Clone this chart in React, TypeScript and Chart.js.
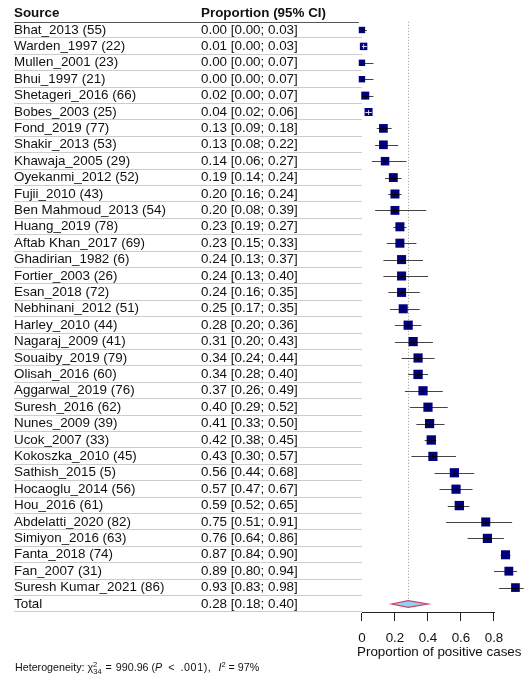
import React, { useEffect, useRef } from "react";
import { Chart, registerables } from "chart.js";

Chart.register(...registerables);

// ---- data ----
const studies = [
  "Bhat_2013 (55)", "Warden_1997 (22)", "Mullen_2001 (23)", "Bhui_1997 (21)",
  "Shetageri_2016 (66)", "Bobes_2003 (25)", "Fond_2019 (77)", "Shakir_2013 (53)",
  "Khawaja_2005 (29)", "Oyekanmi_2012 (52)", "Fujii_2010 (43)", "Ben Mahmoud_2013 (54)",
  "Huang_2019 (78)", "Aftab Khan_2017 (69)", "Ghadirian_1982 (6)", "Fortier_2003 (26)",
  "Esan_2018 (72)", "Nebhinani_2012 (51)", "Harley_2010 (44)", "Nagaraj_2009 (41)",
  "Souaiby_2019 (79)", "Olisah_2016 (60)", "Aggarwal_2019 (76)", "Suresh_2016 (62)",
  "Nunes_2009 (39)", "Ucok_2007 (33)", "Kokoszka_2010 (45)", "Sathish_2015 (5)",
  "Hocaoglu_2014 (56)", "Hou_2016 (61)", "Abdelatti_2020 (82)", "Simiyon_2016 (63)",
  "Fanta_2018 (74)", "Fan_2007 (31)", "Suresh Kumar_2021 (86)",
];
const estimates = [
  0.00, 0.01, 0.00, 0.00, 0.02, 0.04, 0.13, 0.13, 0.14, 0.19, 0.20, 0.20,
  0.23, 0.23, 0.24, 0.24, 0.24, 0.25, 0.28, 0.31, 0.34, 0.34, 0.37, 0.40,
  0.41, 0.42, 0.43, 0.56, 0.57, 0.59, 0.75, 0.76, 0.87, 0.89, 0.93,
];
const lowers = [
  0.00, 0.00, 0.00, 0.00, 0.00, 0.02, 0.09, 0.08, 0.06, 0.14, 0.16, 0.08,
  0.19, 0.15, 0.13, 0.13, 0.16, 0.17, 0.20, 0.20, 0.24, 0.28, 0.26, 0.29,
  0.33, 0.38, 0.30, 0.44, 0.47, 0.52, 0.51, 0.64, 0.84, 0.80, 0.83,
];
const uppers = [
  0.03, 0.03, 0.07, 0.07, 0.07, 0.06, 0.18, 0.22, 0.27, 0.24, 0.24, 0.39,
  0.27, 0.33, 0.37, 0.40, 0.35, 0.35, 0.36, 0.43, 0.44, 0.40, 0.49, 0.52,
  0.50, 0.45, 0.57, 0.68, 0.67, 0.65, 0.91, 0.86, 0.90, 0.94, 0.98,
];
// study weights (%) — square area is proportional to weight
const weights = [
  1.4, 1.9, 1.4, 1.4, 2.2, 2.2, 2.6, 2.6, 2.5, 2.7, 2.8, 2.7,
  2.8, 2.8, 2.8, 2.8, 2.8, 2.8, 2.9, 2.9, 2.9, 3.0, 2.9, 2.9,
  2.9, 3.0, 2.9, 2.9, 2.9, 3.0, 2.8, 2.9, 2.8, 2.7, 2.6,
];
const totalLabel = "Total";
const totalEstimate = 0.28;
const totalLower = 0.18;
const totalUpper = 0.40;
const headers = ["Source", "Proportion (95% CI)"];
const xTicks = [0, 0.2, 0.4, 0.6, 0.8];
const xTitle = "Proportion of positive cases";

// ---- styling ----
const FONT = "'Liberation Sans', Arial, Helvetica, sans-serif";
const TEXT = "#111111";
const SQUARE = "#000080";
const HEADER_ROW = -1;
const TOTAL_ROW = studies.length;
const rowValues = [HEADER_ROW, ...studies.map((_, i) => i), TOTAL_ROW];

const fmt = (v: number) => v.toFixed(2);
const ciText = (e: number, l: number, u: number) => `${fmt(e)} [${fmt(l)}; ${fmt(u)}]`;

const sourceLabel = (v: number) =>
  v === HEADER_ROW ? headers[0] : v === TOTAL_ROW ? totalLabel : studies[v];
const ciLabel = (v: number) =>
  v === HEADER_ROW
    ? headers[1]
    : v === TOTAL_ROW
    ? ciText(totalEstimate, totalLower, totalUpper)
    : ciText(estimates[v], lowers[v], uppers[v]);

const squareSide = (w: number) => 5.4 * Math.sqrt(w);

const tableFont = (ctx: any) => ({
  family: FONT,
  size: 13.4,
  weight: ctx.tick && ctx.tick.value === HEADER_ROW ? "bold" : "normal",
});

const hLine = (ctx: CanvasRenderingContext2D, x1: number, x2: number, y: number) => {
  ctx.beginPath();
  ctx.moveTo(x1, y);
  ctx.lineTo(x2, y);
  ctx.stroke();
};

// Row rules, CI whiskers, reference line, pooled diamond and axis line
const forestPlugin = {
  id: "forestMarks",
  beforeDatasetsDraw(chart: any) {
    const { ctx, scales } = chart;
    const xs = scales.x;
    const ys = scales.ySource;
    const left = ys.left;
    const x0 = xs.getPixelForValue(0);
    const snap = (v: number) => Math.round(v) + 0.5;
    ctx.save();
    ctx.lineWidth = 1;

    // table rules
    ctx.strokeStyle = "#cccccc";
    for (let i = 0; i <= studies.length; i++) {
      hLine(ctx, left, x0, snap(ys.getPixelForValue(i + 0.45)));
    }
    ctx.strokeStyle = "#555555";
    hLine(ctx, left, x0 - 3, snap(ys.getPixelForValue(HEADER_ROW + 0.5)));

    // x axis line from first to last tick
    ctx.strokeStyle = "#222222";
    const axisY = snap(xs.top) - 1;
    hLine(
      ctx,
      snap(xs.getPixelForValue(xTicks[0])) - 0.5,
      snap(xs.getPixelForValue(xTicks[xTicks.length - 1])) + 0.5,
      axisY
    );

    // reference line at the pooled estimate
    ctx.strokeStyle = "#9a9a9a";
    ctx.setLineDash([1, 2]);
    const rx = snap(xs.getPixelForValue(totalEstimate));
    ctx.beginPath();
    ctx.moveTo(rx, ys.getPixelForValue(HEADER_ROW + 0.5));
    ctx.lineTo(rx, ys.getPixelForValue(TOTAL_ROW + 0.2));
    ctx.stroke();
    ctx.setLineDash([]);

    // confidence intervals
    ctx.strokeStyle = "#444444";
    studies.forEach((_, i) => {
      const py = snap(ys.getPixelForValue(i));
      hLine(ctx, xs.getPixelForValue(lowers[i]), xs.getPixelForValue(uppers[i]), py);
    });

    // pooled estimate diamond
    const dy = ys.getPixelForValue(TOTAL_ROW);
    const half = 3.3;
    ctx.beginPath();
    ctx.moveTo(xs.getPixelForValue(totalLower), dy);
    ctx.lineTo(xs.getPixelForValue(totalEstimate), dy - half);
    ctx.lineTo(xs.getPixelForValue(totalUpper), dy);
    ctx.lineTo(xs.getPixelForValue(totalEstimate), dy + half);
    ctx.closePath();
    ctx.fillStyle = "#8fd3ec";
    ctx.fill();
    ctx.strokeStyle = "#d23c6e";
    ctx.lineWidth = 1.2;
    ctx.stroke();
    ctx.restore();
  },
  afterDatasetsDraw(chart: any) {
    const { ctx, scales } = chart;
    const xs = scales.x;
    const ys = scales.ySource;
    ctx.save();
    ctx.lineWidth = 1;
    studies.forEach((_, i) => {
      const side = squareSide(weights[i]);
      const cx = xs.getPixelForValue(estimates[i]);
      const cy = Math.round(ys.getPixelForValue(i)) + 0.5;
      const lo = xs.getPixelForValue(lowers[i]);
      const hi = xs.getPixelForValue(uppers[i]);
      // whiskers fully covered by the square are drawn light
      const inside = lo >= cx - side / 2 && hi <= cx + side / 2;
      ctx.strokeStyle = inside ? "#d8d8f0" : "#000000";
      hLine(ctx, Math.max(cx - side / 2 + 0.5, lo), Math.min(cx + side / 2 - 0.5, hi), cy);
      ctx.beginPath();
      ctx.moveTo(cx, cy - side * 0.3);
      ctx.lineTo(cx, cy + side * 0.3);
      ctx.stroke();
    });
    ctx.restore();
  },
};

const tableAxis = (weight: number, width: number, label: (v: number) => string) => ({
  type: "linear" as const,
  position: "left" as const,
  reverse: true,
  min: -1.3,
  max: 35.55,
  bounds: "data" as const,
  weight,
  afterBuildTicks: (s: any) => {
    s.ticks = rowValues.map((v) => ({ value: v }));
  },
  afterFit: (s: any) => {
    s.width = width;
  },
  grid: { display: false },
  border: { display: false },
  ticks: {
    autoSkip: false,
    crossAlign: "far" as const,
    padding: 0,
    color: TEXT,
    font: tableFont,
    callback: (v: any) => label(Number(v)),
  },
});

function ForestChart() {
  const canvasRef = useRef<HTMLCanvasElement | null>(null);

  useEffect(() => {
    const canvas = canvasRef.current;
    if (!canvas) return;
    const chart = new Chart(canvas, {
      type: "scatter",
      data: {
        datasets: [
          {
            data: studies.map((_, i) => ({ x: estimates[i], y: i })),
            xAxisID: "x",
            yAxisID: "ySource",
            pointStyle: "rect",
            pointRadius: weights.map((w) => squareSide(w) / Math.SQRT2),
            backgroundColor: SQUARE,
            borderColor: SQUARE,
            pointBorderWidth: 0,
            clip: false,
          },
        ],
      },
      options: {
        responsive: false,
        animation: false,
        events: [],
        layout: { autoPadding: false, padding: { top: 8.68, left: 14, right: 0, bottom: 0 } },
        plugins: { legend: { display: false }, tooltip: { enabled: false } },
        scales: {
          x: {
            type: "linear",
            position: "bottom",
            min: -0.03,
            max: 1.0,
            bounds: "data",
            afterBuildTicks: (s: any) => {
              s.ticks = xTicks.map((v) => ({ value: v }));
            },
            afterFit: (s: any) => {
              s.height = 49;
              s.paddingLeft = 0;
              s.paddingRight = 0;
            },
            grid: {
              display: true,
              drawOnChartArea: false,
              drawTicks: true,
              tickLength: 8,
              color: "#222222",
              lineWidth: 1,
            },
            border: { display: false },
            ticks: {
              autoSkip: false,
              maxRotation: 0,
              padding: 9.5,
              color: TEXT,
              font: { family: FONT, size: 13.4 },
              callback: (v: any) => String(Number(v)),
            },
            title: {
              display: true,
              text: xTitle,
              align: "start",
              color: TEXT,
              font: { family: FONT, size: 13.4 },
              padding: { top: 0, bottom: 1.5 },
            },
          },
          ySource: tableAxis(2, 187, sourceLabel),
          yCI: tableAxis(1, 156, ciLabel),
        },
      },
      plugins: [forestPlugin],
    });
    return () => chart.destroy();
  }, []);

  return <canvas ref={canvasRef} width={527} height={662} style={{ display: "block" }} />;
}

export default function App() {
  const small: React.CSSProperties = { fontSize: "7.5px", lineHeight: 0, position: "relative" };
  const rel: React.CSSProperties = { display: "inline-block", margin: "0 6px" };
  return (
    <div style={{ position: "absolute", left: 0, top: 0, width: 527, height: 677, background: "#ffffff" }}>
      <ForestChart />
      <div
        style={{
          position: "absolute",
          left: 15,
          top: 661,
          fontFamily: FONT,
          fontSize: "10.7px",
          lineHeight: "13px",
          color: TEXT,
          whiteSpace: "nowrap",
        }}
      >
        {"Heterogeneity: χ"}
        <span style={{ ...small, top: "-4px" }}>2</span>
        <span style={{ ...small, top: "3px", marginLeft: "-4px" }}>34</span>
        <span style={{ ...rel, margin: "0 4px" }}>{"="}</span>
        {"990.96 ("}
        <i>P</i>
        <span style={rel}>{"<"}</span>
        <span style={{ letterSpacing: "0.6px" }}>{".001),"}</span>
        <span style={{ display: "inline-block", width: "7px" }} />
        <i>I</i>
        <span style={{ ...small, top: "-4px" }}>2</span>
        <span style={{ ...rel, margin: "0 3px" }}>{"="}</span>
        {"97%"}
      </div>
    </div>
  );
}
